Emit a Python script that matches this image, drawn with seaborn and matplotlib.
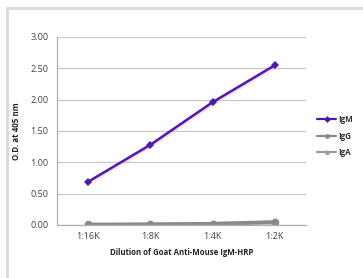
import matplotlib
matplotlib.use("Agg")
import matplotlib.pyplot as plt
import seaborn as sns
import pandas as pd
from matplotlib.patches import Rectangle
from matplotlib.lines import Line2D

dilutions = ["1:16K", "1:8K", "1:4K", "1:2K"]
igm = [0.69, 1.28, 1.96, 2.55]
igg = [0.01, 0.01, 0.02, 0.04]
iga = [0.00, 0.01, 0.02, 0.05]
series_names = ["IgM", "IgG", "IgA"]
colors = {"IgM": "#5019aa", "IgG": "#8a8a8a", "IgA": "#999999"}
markers = {"IgM": "D", "IgG": "o", "IgA": "^"}

df = pd.DataFrame({
    "Dilution": dilutions * 3,
    "OD": igm + igg + iga,
    "Antibody": ["IgM"] * 4 + ["IgG"] * 4 + ["IgA"] * 4,
})

sns.set_theme(style="white")
plt.rcParams["font.family"] = ["Open Sans", "DejaVu Sans"]

fig = plt.figure(figsize=(3.63, 2.78), dpi=100)
fig.patches.append(Rectangle((7/363, -0.1), 1.2, 1 - 8/278 + 0.1, transform=fig.transFigure,
                             fill=False, edgecolor="#dddddd", linewidth=2.2))
ax = fig.add_axes([57/363, 1 - 225/278, 249/363, 188/278])

# faint shadow for IgM
ax.plot(range(4), [v - 0.03 for v in igm], color="#d9a8d0", lw=2.4, alpha=0.35, zorder=1)

for name in ["IgA", "IgG", "IgM"]:
    sub = df[df["Antibody"] == name]
    sns.lineplot(data=sub, x="Dilution", y="OD", ax=ax, color=colors[name],
                 marker=markers[name], markersize=5.5 if name != "IgM" else 4.0,
                 markeredgewidth=0, linewidth=1.8 if name == "IgM" else 2.6,
                 legend=False, sort=False, zorder=3 if name == "IgM" else 2)

ax.set_xlim(-0.5, 3.5)
ax.set_ylim(0, 3.0)
yt = [0, 0.5, 1.0, 1.5, 2.0, 2.5, 3.0]
ax.set_yticks(yt)
ax.set_yticklabels([f"{v:.2f}" for v in yt])
ax.yaxis.grid(True, color="#c8c8c8", linewidth=0.9)
ax.set_axisbelow(True)
for s in ["top", "right"]:
    ax.spines[s].set_visible(False)
for s in ["left", "bottom"]:
    ax.spines[s].set_color("#b0b0b0")
    ax.spines[s].set_linewidth(0.9)

ax.set_xticks(range(4))
ax.set_xticklabels(dilutions)
ax.set_xticks([-0.5, 0.5, 1.5, 2.5, 3.5], minor=True)
ax.tick_params(axis="x", which="major", length=0, labelsize=6.6, colors="#444444", pad=5)
ax.tick_params(axis="x", which="minor", length=3, color="#b0b0b0", width=0.8, direction="out")
ax.tick_params(axis="y", which="major", length=3, width=0.8, labelsize=6.6,
               labelcolor="#444444", color="#b0b0b0", pad=3)

ax.set_xlabel("Dilution of Goat Anti-Mouse IgM-HRP", fontsize=5.6, fontweight="bold",
              color="#222222", labelpad=5)
ax.set_ylabel("O.D. at 405 nm", fontsize=5.8, fontweight="bold", color="#222222", labelpad=7)

handles = [Line2D([0], [0], color=colors[n], marker=markers[n], lw=1.6,
                  markersize=3.5, markeredgewidth=0) for n in series_names]
leg = fig.legend(handles, series_names, loc="upper left", bbox_to_anchor=(317/363, 1 - 115/278),
                 frameon=False, fontsize=5.8, handlelength=2.4, handletextpad=0.2,
                 labelspacing=0.95, borderaxespad=0, borderpad=0)
for t in leg.get_texts():
    t.set_fontweight("bold")
    t.set_color("#333333")

fig.savefig("out.png", dpi=100)
